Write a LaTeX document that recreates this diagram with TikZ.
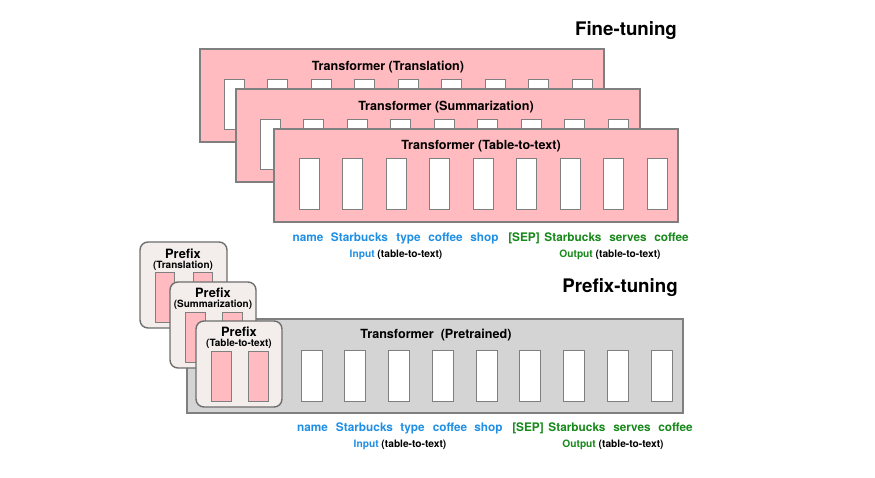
\documentclass[tikz,border=0pt]{standalone}
\usepackage{fontspec}
\setmainfont{TeX Gyre Heros}
\definecolor{pinkfill}{HTML}{FFBBC0}
\definecolor{panelborder}{HTML}{7F7F7F}
\definecolor{grayfill}{HTML}{D4D4D4}
\definecolor{prefixfill}{HTML}{F3EEEC}
\definecolor{prefixborder}{HTML}{6E6E6E}
\definecolor{bluetext}{HTML}{1F8FE5}
\definecolor{greentext}{HTML}{17881A}
\begin{document}
\begin{tikzpicture}[x=1pt,y=-1pt,
  panel/.style={draw=panelborder, line width=1.1pt, fill=pinkfill},
  graypanel/.style={draw=panelborder, line width=1.1pt, fill=grayfill},
  slot/.style={draw=panelborder, line width=1pt, fill=white},
  prefixbox/.style={draw=prefixborder, line width=1.4pt, fill=prefixfill, rounded corners=8pt},
  pinkbar/.style={draw=panelborder, line width=0.9pt, fill=pinkfill},
  ptitle/.style={inner sep=0pt, font=\bfseries\fontsize{12.6}{14}\selectfont},
  htitle/.style={inner sep=0pt, font=\bfseries\fontsize{18.7}{21}\selectfont},
  bword/.style={inner sep=0pt, anchor=base, text=bluetext, font=\bfseries\fontsize{11.8}{13}\selectfont},
  gword/.style={inner sep=0pt, anchor=base, text=greentext, font=\bfseries\fontsize{11.8}{13}\selectfont},
  caption/.style={inner sep=0pt, font=\bfseries\fontsize{10.2}{12}\selectfont},
  pfx/.style={inner sep=0pt, font=\bfseries\fontsize{12.8}{14}\selectfont},
  pfxsub/.style={inner sep=0pt, font=\bfseries\fontsize{10}{12}\selectfont}]
\useasboundingbox (0,0) rectangle (875,478);

% ---------- Fine-tuning ----------
\node[htitle] (ft) at (626,31) {Fine-tuning};

% panel 1
\draw[panel] (200,49) rectangle ++(404,93);
\foreach \i in {0,...,8} \draw[slot] ({224+43.5*\i},80) rectangle ++(20,50);
\node[ptitle] (t1) at (388,67) {Transformer (Translation)};

% panel 2
\draw[panel] (236,89) rectangle ++(404,93);
\foreach \i in {0,...,8} \draw[slot] ({260+43.5*\i},120) rectangle ++(20,50);
\node[ptitle] (t2) at (446,107) {Transformer (Summarization)};

% panel 3
\draw[panel] (274,129) rectangle ++(404,93);
\foreach \i in {0,...,8} \draw[slot] ({299+43.5*\i},159) rectangle ++(20,51);
\node[ptitle] (t3) at (481,146) {Transformer (Table-to-text)};

% words
\node[bword] (a1) at (308,241.5) {name};
\node[bword] (a2) at (359.5,241.5) {Starbucks};
\node[bword] (a3) at (408.5,241.5) {type};
\node[bword] (a4) at (445.5,241.5) {coffee};
\node[bword] (a5) at (484.5,241.5) {shop};
\node[gword] (a6) at (524,241.5) {[SEP]};
\node[gword] (a7) at (573,241.5) {Starbucks};
\node[gword] (a8) at (628,241.5) {serves};
\node[gword] (a9) at (671.5,241.5) {coffee};
\node[caption] (ain) at (396,255) {\textcolor{bluetext}{Input} (table-to-text)};
\node[caption] (aout) at (610,255) {\textcolor{greentext}{Output} (table-to-text)};

% ---------- Prefix-tuning ----------
\node[htitle] (pt) at (620,288) {Prefix-tuning};

\draw[graypanel] (187,319) rectangle ++(496,94);
\foreach \i in {0,...,8} \draw[slot] ({301+43.75*\i},350) rectangle ++(21,51);
\node[ptitle] (tp) at (436,335) {Transformer\ \ (Pretrained)};

% prefix 1
\draw[prefixbox] (140,242) rectangle ++(87,86);
\draw[pinkbar] (155,272) rectangle ++(19,50);
\draw[pinkbar] (193,272) rectangle ++(19,50);
\node[pfx] (p1) at (183,253.5) {Prefix};
\node[pfxsub] (p1s) at (183,265.5) {(Translation)};

% prefix 2
\draw[prefixbox] (170,282) rectangle ++(86,86);
\draw[pinkbar] (185,312) rectangle ++(20,50);
\draw[pinkbar] (222,312) rectangle ++(20,50);
\node[pfx] (p2) at (213,292.5) {Prefix};
\node[pfxsub] (p2s) at (213,304.5) {(Summarization)};

% prefix 3
\draw[prefixbox] (196,321) rectangle ++(86,86);
\draw[pinkbar] (211,351) rectangle ++(20,50);
\draw[pinkbar] (248,351) rectangle ++(20,50);
\node[pfx] (p3) at (239,331.5) {Prefix};
\node[pfxsub] (p3s) at (239,343.5) {(Table-to-text)};

% words
\node[bword] (b1) at (312.5,431.5) {name};
\node[bword] (b2) at (364.5,431.5) {Starbucks};
\node[bword] (b3) at (412.5,431.5) {type};
\node[bword] (b4) at (450,431.5) {coffee};
\node[bword] (b5) at (488.5,431.5) {shop};
\node[gword] (b6) at (528,431.5) {[SEP]};
\node[gword] (b7) at (577,431.5) {Starbucks};
\node[gword] (b8) at (632,431.5) {serves};
\node[gword] (b9) at (675.5,431.5) {coffee};
\node[caption] (bin) at (400,445) {\textcolor{bluetext}{Input} (table-to-text)};
\node[caption] (bout) at (613,445) {\textcolor{greentext}{Output} (table-to-text)};
\end{tikzpicture}
\end{document}
